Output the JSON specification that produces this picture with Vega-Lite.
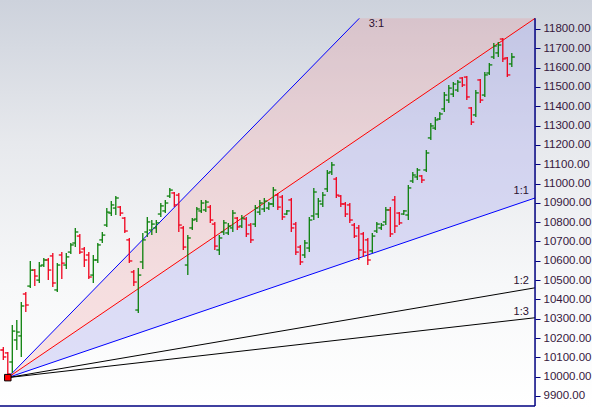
{
  "$schema": "https://vega.github.io/schema/vega-lite/v6.json",
  "width": 592,
  "height": 407,
  "padding": 0,
  "autosize": {"type": "none"},
  "background": "#bcd2ea",
  "config": {
    "view": {
      "stroke": null,
      "fill": {"gradient": "linear", "x1": 0, "y1": 0, "x2": 0, "y2": 1,
        "stops": [
          {"offset": 0, "color": "#cdd2dc"},
          {"offset": 0.35, "color": "#e7e9ed"},
          {"offset": 0.7, "color": "#f7f8f9"},
          {"offset": 1, "color": "#ffffff"}
        ]}
    }
  },
  "datasets": {
    "bars": [
      {"i":1,"o":10138,"h":10154,"l":10086,"c":10102},
      {"i":2,"o":10123,"h":10128,"l":9995,"c":10014},
      {"i":3,"o":10076,"h":10267,"l":10019,"c":10236},
      {"i":4,"o":10190,"h":10293,"l":10138,"c":10231},
      {"i":5,"o":10211,"h":10387,"l":10102,"c":10366},
      {"i":6,"o":10428,"h":10438,"l":10335,"c":10371},
      {"i":7,"o":10469,"h":10599,"l":10459,"c":10552},
      {"i":8,"o":10552,"h":10557,"l":10469,"c":10521},
      {"i":9,"o":10500,"h":10594,"l":10485,"c":10573},
      {"i":10,"o":10578,"h":10614,"l":10568,"c":10604},
      {"i":11,"o":10604,"h":10614,"l":10500,"c":10552},
      {"i":12,"o":10625,"h":10640,"l":10464,"c":10485},
      {"i":13,"o":10449,"h":10588,"l":10438,"c":10578},
      {"i":14,"o":10630,"h":10645,"l":10506,"c":10588},
      {"i":15,"o":10578,"h":10640,"l":10557,"c":10620},
      {"i":16,"o":10645,"h":10692,"l":10635,"c":10682},
      {"i":17,"o":10692,"h":10770,"l":10671,"c":10749},
      {"i":18,"o":10728,"h":10739,"l":10635,"c":10645},
      {"i":19,"o":10661,"h":10671,"l":10568,"c":10604},
      {"i":20,"o":10630,"h":10645,"l":10506,"c":10516},
      {"i":21,"o":10526,"h":10630,"l":10485,"c":10604},
      {"i":22,"o":10604,"h":10692,"l":10588,"c":10682},
      {"i":23,"o":10708,"h":10749,"l":10692,"c":10733},
      {"i":24,"o":10785,"h":10873,"l":10775,"c":10852},
      {"i":25,"o":10847,"h":10909,"l":10832,"c":10889},
      {"i":26,"o":10873,"h":10935,"l":10837,"c":10925},
      {"i":27,"o":10878,"h":10884,"l":10832,"c":10847},
      {"i":28,"o":10821,"h":10827,"l":10744,"c":10754},
      {"i":29,"o":10708,"h":10718,"l":10588,"c":10599},
      {"i":30,"o":10542,"h":10552,"l":10469,"c":10490},
      {"i":31,"o":10345,"h":10563,"l":10330,"c":10526},
      {"i":32,"o":10594,"h":10744,"l":10557,"c":10708},
      {"i":33,"o":10749,"h":10827,"l":10723,"c":10801},
      {"i":34,"o":10759,"h":10811,"l":10733,"c":10790},
      {"i":35,"o":10770,"h":10811,"l":10744,"c":10796},
      {"i":36,"o":10842,"h":10899,"l":10827,"c":10884},
      {"i":37,"o":10858,"h":10915,"l":10847,"c":10899},
      {"i":38,"o":10935,"h":10977,"l":10925,"c":10966},
      {"i":39,"o":10951,"h":10956,"l":10878,"c":10889},
      {"i":40,"o":10940,"h":10951,"l":10749,"c":10785},
      {"i":41,"o":10770,"h":10780,"l":10656,"c":10671},
      {"i":42,"o":10578,"h":10733,"l":10526,"c":10718},
      {"i":43,"o":10770,"h":10821,"l":10759,"c":10811},
      {"i":44,"o":10816,"h":10878,"l":10801,"c":10868},
      {"i":45,"o":10858,"h":10915,"l":10847,"c":10899},
      {"i":46,"o":10863,"h":10915,"l":10852,"c":10904},
      {"i":47,"o":10878,"h":10889,"l":10796,"c":10811},
      {"i":48,"o":10790,"h":10801,"l":10656,"c":10676},
      {"i":49,"o":10656,"h":10733,"l":10630,"c":10718},
      {"i":50,"o":10749,"h":10811,"l":10733,"c":10796},
      {"i":51,"o":10744,"h":10796,"l":10733,"c":10780},
      {"i":52,"o":10770,"h":10863,"l":10749,"c":10847},
      {"i":53,"o":10821,"h":10827,"l":10759,"c":10775},
      {"i":54,"o":10780,"h":10837,"l":10770,"c":10821},
      {"i":55,"o":10816,"h":10827,"l":10723,"c":10739},
      {"i":56,"o":10785,"h":10796,"l":10692,"c":10708},
      {"i":57,"o":10790,"h":10889,"l":10775,"c":10873},
      {"i":58,"o":10852,"h":10915,"l":10837,"c":10899},
      {"i":59,"o":10868,"h":10925,"l":10852,"c":10909},
      {"i":60,"o":10873,"h":10904,"l":10863,"c":10894},
      {"i":61,"o":10894,"h":10982,"l":10878,"c":10966},
      {"i":62,"o":10940,"h":10951,"l":10863,"c":10878},
      {"i":63,"o":10930,"h":10940,"l":10811,"c":10827},
      {"i":64,"o":10842,"h":10863,"l":10837,"c":10858},
      {"i":65,"o":10915,"h":10925,"l":10749,"c":10770},
      {"i":66,"o":10790,"h":10801,"l":10630,"c":10645},
      {"i":67,"o":10671,"h":10682,"l":10578,"c":10594},
      {"i":68,"o":10630,"h":10708,"l":10614,"c":10692},
      {"i":69,"o":10666,"h":10827,"l":10645,"c":10811},
      {"i":70,"o":10832,"h":10977,"l":10811,"c":10956},
      {"i":71,"o":10842,"h":10925,"l":10821,"c":10909},
      {"i":72,"o":10894,"h":10956,"l":10878,"c":10940},
      {"i":73,"o":10972,"h":11070,"l":10956,"c":11054},
      {"i":74,"o":11060,"h":11111,"l":11044,"c":11096},
      {"i":75,"o":11023,"h":11034,"l":10925,"c":10940},
      {"i":76,"o":10935,"h":10940,"l":10878,"c":10894},
      {"i":77,"o":10894,"h":10904,"l":10827,"c":10842},
      {"i":78,"o":10889,"h":10899,"l":10796,"c":10811},
      {"i":79,"o":10785,"h":10796,"l":10718,"c":10728},
      {"i":80,"o":10770,"h":10785,"l":10604,"c":10656},
      {"i":81,"o":10739,"h":10749,"l":10620,"c":10645},
      {"i":82,"o":10708,"h":10718,"l":10578,"c":10604},
      {"i":83,"o":10651,"h":10744,"l":10640,"c":10728},
      {"i":84,"o":10754,"h":10801,"l":10744,"c":10790},
      {"i":85,"o":10770,"h":10796,"l":10759,"c":10785},
      {"i":86,"o":10801,"h":10878,"l":10785,"c":10863},
      {"i":87,"o":10863,"h":10878,"l":10723,"c":10739},
      {"i":88,"o":10915,"h":10935,"l":10744,"c":10780},
      {"i":89,"o":10847,"h":10852,"l":10785,"c":10796},
      {"i":90,"o":10842,"h":10863,"l":10837,"c":10858},
      {"i":91,"o":10837,"h":10992,"l":10811,"c":10977},
      {"i":92,"o":11013,"h":11060,"l":11003,"c":11044},
      {"i":93,"o":11034,"h":11080,"l":11018,"c":11070},
      {"i":94,"o":11039,"h":11044,"l":11003,"c":11018},
      {"i":95,"o":11070,"h":11173,"l":11060,"c":11158},
      {"i":96,"o":11236,"h":11313,"l":11225,"c":11298},
      {"i":97,"o":11287,"h":11344,"l":11277,"c":11329},
      {"i":98,"o":11334,"h":11370,"l":11329,"c":11360},
      {"i":99,"o":11386,"h":11474,"l":11370,"c":11458},
      {"i":100,"o":11432,"h":11510,"l":11417,"c":11494},
      {"i":101,"o":11463,"h":11525,"l":11448,"c":11515},
      {"i":102,"o":11484,"h":11536,"l":11474,"c":11525},
      {"i":103,"o":11546,"h":11551,"l":11500,"c":11510},
      {"i":104,"o":11551,"h":11557,"l":11432,"c":11448},
      {"i":105,"o":11391,"h":11396,"l":11303,"c":11318},
      {"i":106,"o":11355,"h":11484,"l":11344,"c":11469},
      {"i":107,"o":11536,"h":11541,"l":11417,"c":11432},
      {"i":108,"o":11458,"h":11577,"l":11448,"c":11562},
      {"i":109,"o":11572,"h":11624,"l":11562,"c":11614},
      {"i":110,"o":11655,"h":11727,"l":11645,"c":11712},
      {"i":111,"o":11676,"h":11733,"l":11655,"c":11717},
      {"i":112,"o":11748,"h":11753,"l":11629,"c":11645},
      {"i":113,"o":11650,"h":11655,"l":11551,"c":11562},
      {"i":114,"o":11619,"h":11676,"l":11603,"c":11655}
    ],
    "fan": [
      {"name":"3:1","i1":2,"p1":9995,"i2":80.1,"p2":11855},
      {"name":"2:1","i1":2,"p1":9995,"i2":119.16,"p2":11855},
      {"name":"1:1","i1":2,"p1":9995,"i2":119.16,"p2":10925},
      {"name":"1:2","i1":2,"p1":9995,"i2":119.16,"p2":10460},
      {"name":"1:3","i1":2,"p1":9995,"i2":119.16,"p2":10305}
    ],
    "pink": [
      {"i":2,"hi":9995,"lo":9995},
      {"i":80.1,"hi":11855,"lo":11235},
      {"i":119.16,"hi":11855,"lo":11855}
    ],
    "lav": [
      {"i":2,"hi":9995,"lo":9995},
      {"i":119.16,"hi":11855,"lo":10925}
    ],
    "labels": [
      {"t":"3:1","i":85.6,"p":11826},
      {"t":"1:1","i":117.8,"p":10959},
      {"t":"1:2","i":117.8,"p":10495},
      {"t":"1:3","i":117.8,"p":10337}
    ]
  },
  "layer": [
    {
      "data": {"name": "pink"},
      "mark": {"type": "area", "color": "#f18f92", "opacity": 0.25},
      "encoding": {
        "x": {"field": "i", "type": "quantitative", "scale": {"domain": [0.267, 131.82], "nice": false, "zero": false}, "axis": null},
        "y": {"field": "hi", "type": "quantitative", "scale": {"domain": [9843, 11950], "nice": false, "zero": false},
          "axis": {"orient": "right", "offset": -57, "title": null, "tickCount": 40, "values": [9900,10000,10100,10200,10300,10400,10500,10600,10700,10800,10900,11000,11100,11200,11300,11400,11500,11600,11700,11800],
            "format": ".2f", "domain": false, "grid": false, "tickColor": "#000080", "tickSize": 5, "labelPadding": 3,
            "labelFont": "Liberation Sans", "labelFontSize": 11.5, "labelColor": "#36183c", "labelOverlap": false, "labelFlush": false}},
        "y2": {"field": "lo"}
      }
    },
    {
      "data": {"name": "lav"},
      "mark": {"type": "area", "color": "#acacee", "opacity": 0.375},
      "encoding": {
        "x": {"field": "i", "type": "quantitative"},
        "y": {"field": "hi", "type": "quantitative"},
        "y2": {"field": "lo"}
      }
    },
    {
      "data": {"name": "fan"},
      "mark": {"type": "rule"},
      "encoding": {
        "x": {"field": "i1", "type": "quantitative"},
        "x2": {"field": "i2"},
        "y": {"field": "p1", "type": "quantitative"},
        "y2": {"field": "p2"},
        "color": {"field": "name", "type": "nominal", "legend": null,
          "scale": {"domain": ["3:1","2:1","1:1","1:2","1:3"], "range": ["#0000ff","#ff0000","#0000ff","#000000","#000000"]}},
        "strokeWidth": {"field": "name", "type": "nominal", "legend": null,
          "scale": {"domain": ["3:1","2:1","1:1","1:2","1:3"], "range": [1, 1, 1.6, 1.3, 1.3]}}
      }
    },
    {
      "data": {"name": "bars"},
      "mark": {"type": "rule", "strokeWidth": 1.3},
      "encoding": {
        "x": {"field": "i", "type": "quantitative"},
        "y": {"field": "l", "type": "quantitative"},
        "y2": {"field": "h"},
        "color": {"condition": {"test": "datum.c >= datum.o", "value": "#0b800b"}, "value": "#f0001c"}
      }
    },
    {
      "data": {"name": "bars"},
      "mark": {"type": "tick", "orient": "horizontal", "size": 3, "thickness": 1.3, "xOffset": -1.5, "opacity": 1},
      "encoding": {
        "x": {"field": "i", "type": "quantitative"},
        "y": {"field": "o", "type": "quantitative"},
        "color": {"condition": {"test": "datum.c >= datum.o", "value": "#0b800b"}, "value": "#f0001c"}
      }
    },
    {
      "data": {"name": "bars"},
      "mark": {"type": "tick", "orient": "horizontal", "size": 3, "thickness": 1.3, "xOffset": 1.5, "opacity": 1},
      "encoding": {
        "x": {"field": "i", "type": "quantitative"},
        "y": {"field": "c", "type": "quantitative"},
        "color": {"condition": {"test": "datum.c >= datum.o", "value": "#0b800b"}, "value": "#f0001c"}
      }
    },
    {
      "data": {"name": "fan"},
      "transform": [{"filter": "datum.name === '1:1'"}],
      "mark": {"type": "point", "shape": "square", "size": 42, "filled": true, "fill": "#ff0000", "stroke": "#000000", "strokeWidth": 1, "opacity": 1},
      "encoding": {
        "x": {"field": "i1", "type": "quantitative"},
        "y": {"field": "p1", "type": "quantitative"}
      }
    },
    {
      "data": {"name": "labels"},
      "mark": {"type": "text", "font": "Liberation Sans", "fontSize": 11, "baseline": "middle", "align": "right", "color": "#2a1030"},
      "encoding": {
        "x": {"field": "i", "type": "quantitative"},
        "y": {"field": "p", "type": "quantitative"},
        "text": {"field": "t"}
      }
    },
    {
      "data": {"values": [{}]},
      "mark": {"type": "rule", "color": "#000080", "strokeWidth": 1.5},
      "encoding": {
        "x": {"datum": 119.16, "type": "quantitative"},
        "y": {"datum": 9848, "type": "quantitative"},
        "y2": {"datum": 11855}
      }
    },
    {
      "data": {"values": [{}]},
      "mark": {"type": "rule", "color": "#000080", "strokeWidth": 1.5},
      "encoding": {
        "x": {"datum": 0.267, "type": "quantitative"},
        "x2": {"datum": 119.16},
        "y": {"datum": 9848, "type": "quantitative"}
      }
    }
  ]
}
